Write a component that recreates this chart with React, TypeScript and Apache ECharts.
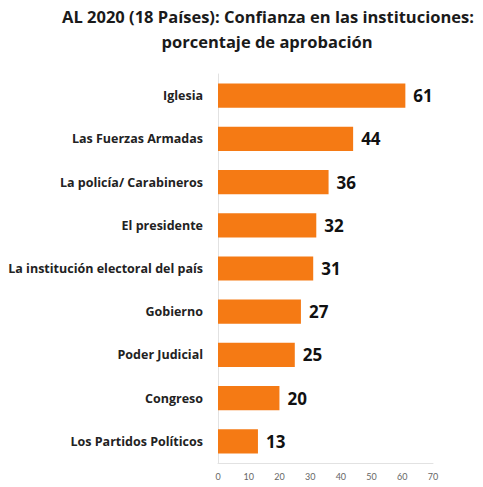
import React, { useEffect, useRef } from "react";
import * as echarts from "echarts";

const categories = [
  "Iglesia",
  "Las Fuerzas Armadas",
  "La policía/ Carabineros",
  "El presidente",
  "La institución electoral del país",
  "Gobierno",
  "Poder Judicial",
  "Congreso",
  "Los Partidos Políticos",
];
const values = [61, 44, 36, 32, 31, 27, 25, 20, 13];
const titleLine1 = "AL 2020 (18 Países): Confianza en las instituciones:";
const titleLine2 = "porcentaje de aprobación";

export default function App() {
  const ref = useRef<HTMLDivElement>(null);
  useEffect(() => {
    if (!ref.current) return;
    const chart = echarts.init(ref.current, undefined, { renderer: "svg" });
    const font = "'Open Sans'";
    chart.setOption({
      animation: false,
      backgroundColor: "#ffffff",
      graphic: [
        {
          type: "text",
          x: 268,
          y: 16.5,
          style: {
            text: titleLine1,
            font: `bold 16.5px ${font}`,
            fill: "#1a1a1a",
            align: "center",
            verticalAlign: "middle",
          },
        },
        {
          type: "text",
          x: 267,
          y: 41,
          style: {
            text: titleLine2,
            font: `bold 16.5px ${font}`,
            fill: "#1a1a1a",
            align: "center",
            verticalAlign: "middle",
          },
        },
      ],
      grid: { left: 218, right: 50, top: 74, bottom: 24, containLabel: false },
      xAxis: {
        type: "value",
        min: 0,
        max: 70,
        interval: 10,
        axisLine: { show: true, lineStyle: { color: "#e2e2e2" } },
        axisTick: { show: false },
        splitLine: { show: false },
        axisLabel: { color: "#666", fontSize: 9, fontFamily: "Lato", margin: 9 },
      },
      yAxis: {
        type: "category",
        data: categories,
        inverse: true,
        axisLine: { show: true, lineStyle: { color: "#e2e2e2" } },
        axisTick: { show: false },
        axisLabel: {
          color: "#222",
          fontSize: 12.5,
          fontWeight: "bold",
          fontFamily: font,
          margin: 15,
        },
      },
      series: [
        {
          type: "bar",
          data: values,
          barCategoryGap: "44%",
          itemStyle: { color: "#F57A14" },
          label: {
            show: true,
            position: "right",
            distance: 8,
            color: "#111",
            fontSize: 17,
            fontWeight: "bold",
            fontFamily: font,
          },
        },
      ],
    });
    return () => chart.dispose();
  }, []);
  return <div ref={ref} style={{ width: 483, height: 487, position: "absolute", left: 0, top: 0 }} />;
}
